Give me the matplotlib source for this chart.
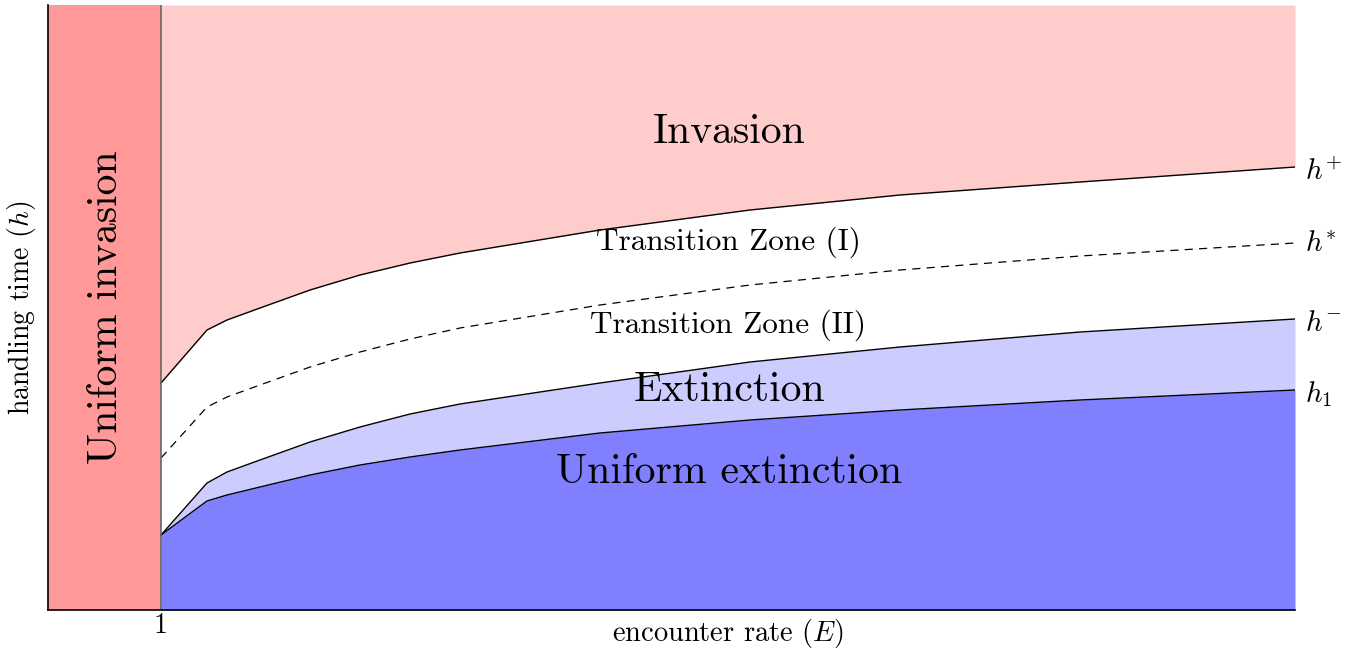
import matplotlib
matplotlib.use("Agg")
import matplotlib.pyplot as plt

plt.rcParams['font.family'] = ['cmr10', 'DejaVu Serif']
plt.rcParams['mathtext.fontset'] = 'cm'
plt.rcParams['axes.unicode_minus'] = False
plt.rcParams['axes.formatter.use_mathtext'] = True

# Encounter rate samples and boundary curves
E = [1.0, 1.407, 1.584, 1.876, 2.319, 2.761, 3.204, 3.646, 4.885, 6.212, 7.540, 9.133, 11.035]
h_plus = [2.27, 2.80, 2.90, 3.02, 3.20, 3.35, 3.47, 3.57, 3.80, 4.00, 4.15, 4.28, 4.43]
h_star = [1.52, 2.03, 2.13, 2.25, 2.43, 2.58, 2.71, 2.82, 3.05, 3.25, 3.40, 3.54, 3.67]
h_minus = [0.75, 1.27, 1.38, 1.50, 1.68, 1.83, 1.96, 2.06, 2.27, 2.48, 2.63, 2.78, 2.91]
h_one = [0.75, 1.09, 1.15, 1.23, 1.35, 1.45, 1.53, 1.60, 1.77, 1.90, 2.00, 2.10, 2.20]

x_max = 11.035
y_max = 6.05

fig = plt.figure(figsize=(13.5, 6.5), dpi=100)
ax = fig.add_axes([48/1350, 40/650, 1247/1350, 605/650])
ax.set_xlim(0, x_max)
ax.set_ylim(0, y_max)

ax.axvspan(0, 1, color='#FF9999', lw=0, zorder=1)
ax.fill_between(E, h_plus, y_max, color='#FFCCCC', lw=0, zorder=1)
ax.fill_between(E, h_one, h_minus, color='#CCCCFF', lw=0, zorder=1)
ax.fill_between(E, 0, h_one, color='#8080FF', lw=0, zorder=1)

line_kw = dict(color='black', lw=1.0, zorder=3, solid_joinstyle='round')
ax.plot(E, h_plus, **line_kw)
ax.plot(E, h_minus, **line_kw)
ax.plot(E, h_one, **line_kw)
ax.plot(E, h_star, color='black', lw=0.9, dashes=(6.5, 5), zorder=3)
ax.axvline(1, color='#666666', lw=1.2, zorder=4)

ax.spines['top'].set_visible(False)
ax.spines['right'].set_visible(False)
ax.spines['left'].set_linewidth(1.2)
ax.spines['bottom'].set_linewidth(1.2)
ax.spines['left'].set_zorder(5)
ax.spines['bottom'].set_zorder(5)

ax.set_xticks([1])
ax.set_xticklabels(['1'], fontsize=20)
ax.set_yticks([])
ax.tick_params(axis='x', length=0, pad=2)

fig.text(728/1350, 1 - 633/650, 'encounter rate ($E$)', fontsize=20.5,
         ha='center', va='center')
ax.set_ylabel('handling time ($h$)', fontsize=20, labelpad=7)

big = 30
ax.text(6.027, 4.78, 'Invasion', fontsize=big, ha='center', va='center', zorder=6)
ax.text(6.02, 3.68, 'Transition Zone (I)', fontsize=22.5, ha='center', va='center', zorder=6)
ax.text(6.02, 2.85, 'Transition Zone (II)', fontsize=22.5, ha='center', va='center', zorder=6)
ax.text(6.03, 2.20, 'Extinction', fontsize=big, ha='center', va='center', zorder=6)
ax.text(6.03, 1.38, 'Uniform extinction', fontsize=big, ha='center', va='center', zorder=6)
ax.text(0.52, 3.03, 'Uniform invasion', fontsize=big, ha='center', va='center',
        rotation=90, zorder=6)

lx = 11.12
for lab, yy in [('$h^{+}$', 4.38), ('$h^{*}$', 3.65), ('$h^{-}$', 2.86), ('$h_1$', 2.16)]:
    ax.text(lx, yy, lab, fontsize=21, ha='left', va='center', clip_on=False)

fig.savefig('out.png', dpi=100)
